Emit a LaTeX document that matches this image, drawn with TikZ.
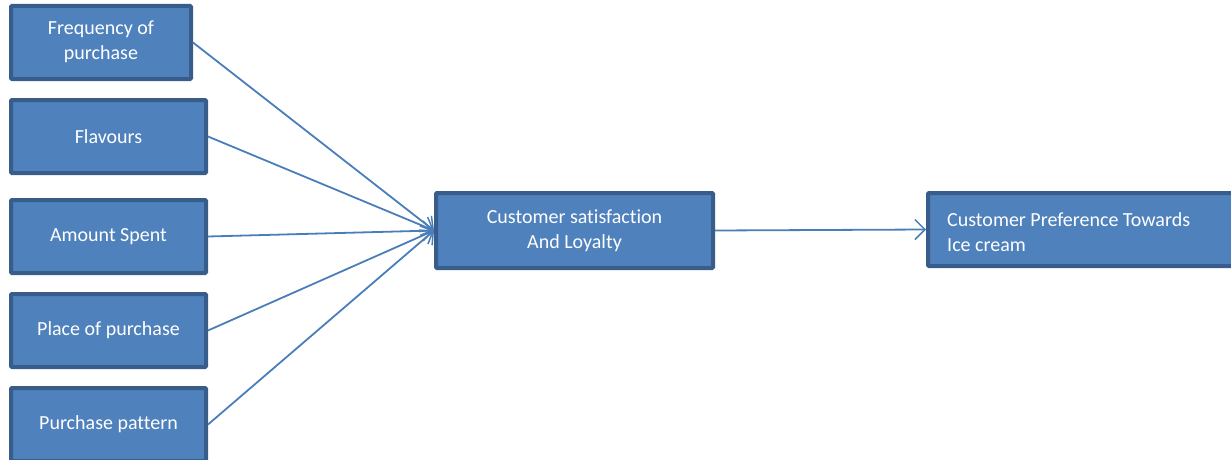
\documentclass[tikz,border=0pt]{standalone}
\usepackage{fontspec}
\setmainfont[Ligatures=NoCommon]{Carlito}
\usetikzlibrary{arrows.meta}
\definecolor{boxfill}{HTML}{4F81BD}
\definecolor{boxline}{HTML}{385D8A}
\definecolor{conn}{HTML}{4A7EBB}
\newcommand{\twoline}[2]{\raisebox{-2pt}{\begin{tabular}{@{}c@{}}#1\\#2\end{tabular}}}
\tikzset{
  box/.style={draw=boxline, fill=boxfill, line width=4pt, text=white,
    rounded corners=1pt, inner sep=0pt, align=center,
    font=\fontsize{20}{25}\selectfont},
  conn/.style={draw=conn, line width=1.8pt, -{Straight Barb[length=10pt,width=20pt,line width=1.5pt]}}
}
\begin{document}
\begin{tikzpicture}[x=1pt,y=-1pt]
\useasboundingbox (0,0) rectangle (1231,460);
\clip (0,0) rectangle (1231,460);
\node[box, minimum width=180pt, minimum height=73pt] (b1) at (101,42.5) {\twoline{Frequency of}{purchase}};
\node[box, minimum width=195pt, minimum height=73pt] (b2) at (108.5,136.5) {Flavours};
\node[box, minimum width=195pt, minimum height=73pt] (b3) at (108.5,236.5) {Amount Spent};
\node[box, minimum width=195pt, minimum height=73pt] (b4) at (108.5,330.5) {Place of purchase};
\node[box, minimum width=195pt, minimum height=73pt] (b5) at (108.5,424.5) {Purchase pattern};
\node[box, minimum width=277pt, minimum height=75pt] (mid) at (574.5,230.5) {\twoline{Customer satisfaction}{And Loyalty}};
\node[box, anchor=west, minimum height=73pt, minimum width=320pt] (res) at (926,229.5) {};
\node[anchor=west, text=white, inner sep=0pt, align=left, font=\fontsize{20}{25}\selectfont] (restext) at (947,232) {Customer Preference Towards\\Ice cream};
\draw[conn] (b1.east) -- (mid.west);
\draw[conn] (b2.east) -- (mid.west);
\draw[conn] (b3.east) -- (mid.west);
\draw[conn] (b4.east) -- (mid.west);
\draw[conn] (b5.east) -- (mid.west);
\draw[conn] (mid.east) -- (res.west);
\end{tikzpicture}
\end{document}
